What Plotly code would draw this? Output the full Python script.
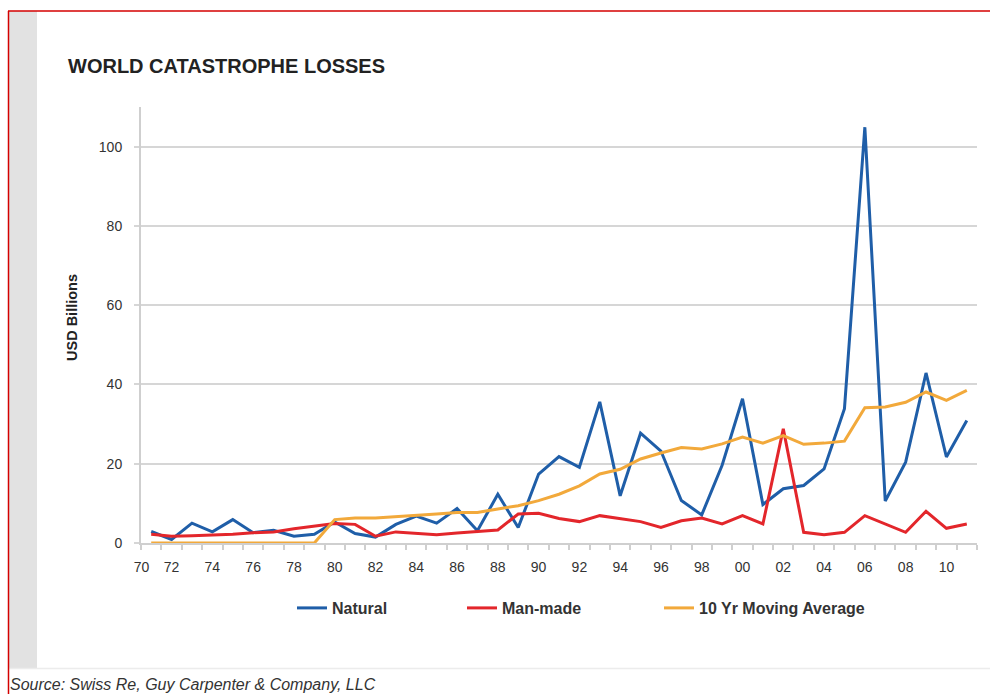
import plotly.graph_objects as go

# ---------------- data ----------------
years = [1971, 1972, 1973, 1974, 1975, 1976, 1977, 1978, 1979, 1980,
         1981, 1982, 1983, 1984, 1985, 1986, 1987, 1988, 1989, 1990,
         1991, 1992, 1993, 1994, 1995, 1996, 1997, 1998, 1999, 2000,
         2001, 2002, 2003, 2004, 2005, 2006, 2007, 2008, 2009, 2010, 2011]

natural = [2.9, 0.9, 5.0, 2.8, 5.9, 2.6, 3.2, 1.7, 2.2, 5.3,
           2.4, 1.5, 4.7, 6.8, 5.0, 8.7, 3.1, 12.3, 3.9, 17.4,
           21.8, 19.1, 35.6, 11.9, 27.7, 23.2, 10.7, 7.1, 19.6, 36.4,
           9.7, 13.7, 14.5, 18.7, 33.9, 104.9, 10.6, 20.4, 42.9, 21.7, 30.9]

man_made = [2.2, 1.7, 1.8, 2.0, 2.2, 2.6, 2.8, 3.6, 4.2, 4.9,
            4.7, 1.7, 2.8, 2.4, 2.1, 2.5, 2.9, 3.3, 7.3, 7.5,
            6.2, 5.4, 6.9, 6.2, 5.4, 3.9, 5.6, 6.3, 4.8, 6.9,
            4.8, 28.8, 2.7, 2.1, 2.7, 6.9, 4.8, 2.7, 8.0, 3.7, 4.8]

moving_avg = [0, 0, 0, 0, 0, 0, 0, 0, 0, 5.9,
              6.3, 6.3, 6.6, 7.0, 7.3, 7.7, 7.7, 8.6, 9.4, 10.7,
              12.3, 14.4, 17.4, 18.6, 21.2, 22.7, 24.1, 23.7, 25.0, 26.7,
              25.2, 27.1, 24.9, 25.2, 25.7, 34.1, 34.3, 35.5, 38.1, 36.0, 38.5]

tick_years = [1970, 1972, 1974, 1976, 1978, 1980, 1982, 1984, 1986, 1988,
              1990, 1992, 1994, 1996, 1998, 2000, 2002, 2004, 2006, 2008, 2010]
tick_labels = ["70", "72", "74", "76", "78", "80", "82", "84", "86", "88",
               "90", "92", "94", "96", "98", "00", "02", "04", "06", "08", "10"]

y_ticks = [0, 20, 40, 60, 80, 100]

series_names = ["Natural", "Man-made", "10 Yr Moving Average"]
series_colors = ["#1f5ea8", "#e3262b", "#f2a93b"]

# ---------------- figure ----------------
W, H = 990, 694
ML, MR, MT, MB = 141, 13, 107, 151
PW, PH = W - ML - MR, H - MT - MB

x_lo, x_hi = years[0] - 0.5, years[-1] + 0.5
tickvals = [max(t, x_lo + 0.02) for t in tick_years]

def px(xp):
    return (xp - ML) / PW

def py(yp):
    return (H - MB - yp) / PH

font_family = "Liberation Sans, Arial, sans-serif"

fig = go.Figure()
series = [natural, man_made, moving_avg]
legend_ids = ["legend", "legend2", "legend3"]
for name, vals, col, lg in zip(series_names, series, series_colors, legend_ids):
    fig.add_trace(go.Scatter(x=years, y=vals, mode="lines", name=name,
                             line=dict(color=col, width=3),
                             legend=lg, showlegend=True))

legend_common = dict(orientation="h", yanchor="middle", xanchor="left",
                     y=py(608), bgcolor="rgba(0,0,0,0)", borderwidth=0,
                     font=dict(family=font_family, size=16, color="#333333", weight="bold"))

fig.update_layout(
    width=W, height=H,
    margin=dict(l=ML, r=MR, t=MT, b=MB, pad=0),
    paper_bgcolor="white", plot_bgcolor="white",
    font=dict(family=font_family, color="#333333"),
    legend=dict(x=px(292), **legend_common),
    legend2=dict(x=px(462), **legend_common),
    legend3=dict(x=px(659), **legend_common),
    xaxis=dict(range=[x_lo, x_hi], tickmode="array", tickvals=tickvals, ticktext=tick_labels,
               ticks="", showgrid=False, zeroline=False,
               showline=True, linecolor="#cfcfcf", linewidth=2,
               tickfont=dict(size=14, color="#333333"), ticklabelstandoff=10,
               minor=dict(ticks="outside", ticklen=5, tickcolor="#cfcfcf", tickwidth=1.5,
                          tickmode="linear", tick0=x_lo, dtick=1, showgrid=False)),
    yaxis=dict(range=[0, 110], tickmode="array", tickvals=y_ticks,
               showgrid=True, gridcolor="#d6d6d6", gridwidth=1.5, zeroline=False,
               showline=True, linecolor="#cfcfcf", linewidth=2,
               ticks="outside", ticklen=5, tickcolor="#d6d6d6", tickwidth=1.5,
               tickfont=dict(size=14, color="#333333"), ticklabelstandoff=9),
)

# decorative frame
shapes = [
    dict(type="rect", xref="paper", yref="paper", x0=px(9), x1=px(37), y0=py(668), y1=py(11),
         fillcolor="#e2e2e2", line=dict(width=0), layer="below"),
    dict(type="line", xref="paper", yref="paper", x0=px(9), x1=px(990), y0=py(668.5), y1=py(668.5),
         line=dict(color="#ececec", width=1.5)),
    dict(type="line", xref="paper", yref="paper", x0=px(8), x1=px(990), y0=py(11), y1=py(11),
         line=dict(color="#d40000", width=1.5)),
    dict(type="line", xref="paper", yref="paper", x0=px(8.5), x1=px(8.5), y0=py(11), y1=py(694),
         line=dict(color="#d40000", width=1.5)),
]
fig.update_layout(shapes=shapes)

annotations = [
    dict(text="WORLD CATASTROPHE LOSSES", xref="paper", yref="paper",
         x=px(66), y=py(66), xanchor="left", yanchor="middle", showarrow=False,
         font=dict(family=font_family, size=20, color="#222222", weight="bold")),
    dict(text="USD Billions", xref="paper", yref="paper", textangle=-90,
         x=px(72), y=py(318), xanchor="center", yanchor="middle", showarrow=False,
         font=dict(family=font_family, size=14.5, color="#222222", weight="bold")),
    dict(text="Source: Swiss Re, Guy Carpenter & Company, LLC", xref="paper", yref="paper",
         x=px(8), y=py(684), xanchor="left", yanchor="middle", showarrow=False,
         font=dict(family=font_family, size=16, color="#333333", style="italic")),
]
fig.update_layout(annotations=annotations)

fig.write_html("out.html")
